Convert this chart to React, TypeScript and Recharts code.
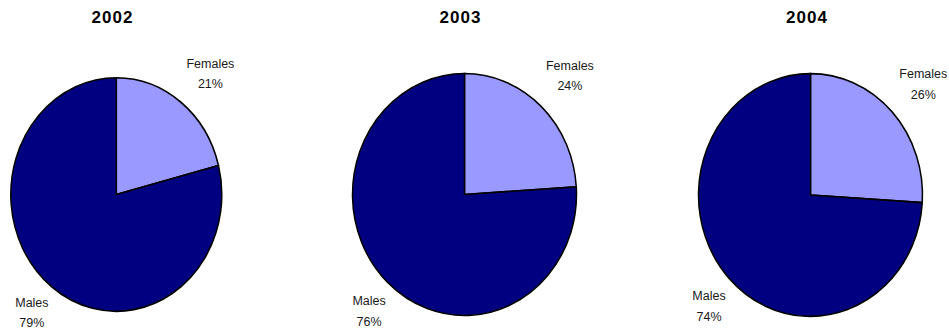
import { Cell, Pie, PieChart } from "recharts";

const YEARS = ["2002", "2003", "2004"];
const GROUPS = ["Females", "Males"];
const FEMALES = [21, 24, 26];
const MALES = [79, 76, 74];

const COLORS = ["#9999ff", "#000080"];

// Posición de cada tarta dentro de su panel (el original es ligeramente ovalado: k = alto/ancho).
// off/nudge: separación y giro de las etiquetas [Females, Males] respecto al ángulo medio.
const PANELS = [
  { left: 0, cx: 116.3, cy: 194.5, r: 105.5, k: 1.107, titleX: 112.5, off: [38.5, 31], nudge: [-3, -0.4] },
  { left: 316, cx: 148.5, cy: 194.5, r: 112, k: 1.08, titleX: 144.5, off: [40, 32.5], nudge: [-0.7, 1.9] },
  { left: 633, cx: 177.5, cy: 195, r: 112, k: 1.084, titleX: 174, off: [40, 32.5], nudge: [-1.1, 2.2] },
];

const FONT = "'Liberation Sans', Arial, sans-serif";
const RADIAN = Math.PI / 180;

function renderLabel(props: any, p: (typeof PANELS)[number]) {
  const { cx, cy, midAngle, outerRadius, name, value, index } = props;
  const r = outerRadius + p.off[index];
  const a = (midAngle + p.nudge[index]) * RADIAN;
  const x = cx + r * Math.cos(-a);
  const y = cy + r * Math.sin(-a);
  return (
    <g key={`lbl-${index}`} transform={`translate(${x},${y}) scale(1,${1 / p.k})`}>
      <text
        x={0}
        y={-10.25}
        textAnchor="middle"
        dominantBaseline="central"
        fontFamily={FONT}
        fontSize={12.5}
        fill="#1a1a1a"
      >
        {name}
      </text>
      <text
        x={0}
        y={10.25}
        textAnchor="middle"
        dominantBaseline="central"
        fontFamily={FONT}
        fontSize={12.5}
        fill="#1a1a1a"
      >
        {`${value}%`}
      </text>
    </g>
  );
}

function YearPie({ i }: { i: number }) {
  const p = PANELS[i];
  const data = [
    { name: GROUPS[0], value: FEMALES[i] },
    { name: GROUPS[1], value: MALES[i] },
  ];
  return (
    <div style={{ position: "absolute", left: p.left, top: 0, width: 316, height: 331 }}>
      <div
        style={{
          position: "absolute",
          left: p.titleX - 50,
          top: 8,
          width: 100,
          height: 20,
          lineHeight: "20px",
          textAlign: "center",
          fontFamily: FONT,
          fontWeight: "bold",
          fontSize: 17,
          letterSpacing: 1,
          color: "#000",
        }}
      >
        {YEARS[i]}
      </div>
      <div
        style={{
          position: "absolute",
          left: 0,
          top: 0,
          transform: `scaleY(${p.k})`,
          transformOrigin: `${p.cx}px ${p.cy}px`,
        }}
      >
        <PieChart width={316} height={331} margin={{ top: 0, right: 0, bottom: 0, left: 0 }}>
          <Pie
            data={data}
            dataKey="value"
            nameKey="name"
            cx={p.cx}
            cy={p.cy}
            outerRadius={p.r}
            startAngle={90}
            endAngle={-270}
            stroke="#000"
            strokeWidth={1.5}
            isAnimationActive={false}
            labelLine={false}
            label={(props: any) => renderLabel(props, p)}
          >
            {data.map((d, j) => (
              <Cell key={d.name} fill={COLORS[j]} />
            ))}
          </Pie>
        </PieChart>
      </div>
    </div>
  );
}

export default function App() {
  return (
    <div
      style={{
        position: "absolute",
        left: 0,
        top: 0,
        width: 949,
        height: 331,
        background: "#fff",
        overflow: "hidden",
      }}
    >
      {YEARS.map((y, i) => (
        <YearPie key={y} i={i} />
      ))}
    </div>
  );
}
